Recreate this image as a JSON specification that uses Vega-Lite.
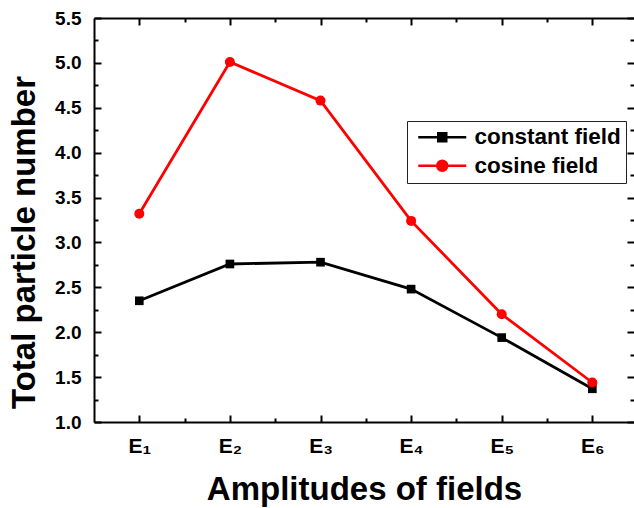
{
  "$schema": "https://vega.github.io/schema/vega-lite/v6.json",
  "width": 540,
  "height": 404,
  "autosize": "none",
  "padding": {"left": 94, "top": 18, "right": 0, "bottom": 86},
  "background": "white",
  "config": {"view": {"stroke": null}, "font": "Liberation Sans"},
  "data": {
    "values": [
      {"amp": 1, "series": "constant field", "value": 2.35},
      {"amp": 2, "series": "constant field", "value": 2.76},
      {"amp": 3, "series": "constant field", "value": 2.78},
      {"amp": 4, "series": "constant field", "value": 2.48},
      {"amp": 5, "series": "constant field", "value": 1.94},
      {"amp": 6, "series": "constant field", "value": 1.37},
      {"amp": 1, "series": "cosine field", "value": 3.32},
      {"amp": 2, "series": "cosine field", "value": 5.01},
      {"amp": 3, "series": "cosine field", "value": 4.58},
      {"amp": 4, "series": "cosine field", "value": 3.24},
      {"amp": 5, "series": "cosine field", "value": 2.2},
      {"amp": 6, "series": "cosine field", "value": 1.44}
    ]
  },
  "layer": [
    {
      "transform": [{"filter": "datum.series === 'constant field'"}],
      "mark": {"type": "line", "strokeWidth": 2.8, "color": "black"},
      "encoding": {
        "x": {
          "field": "amp", "type": "quantitative",
          "scale": {"domain": [0.5, 6.46], "nice": false, "zero": false},
          "axis": {
            "orient": "bottom",
            "values": [1, 1.5, 2, 2.5, 3, 3.5, 4, 4.5, 5, 5.5, 6],
            "labelExpr": "datum.value % 1 === 0 ? 'E' + ['₁','₂','₃','₄','₅','₆'][datum.value - 1] : ''",
            "title": "Amplitudes of fields",
            "titleFontSize": 33, "titleFontWeight": "bold", "titleColor": "black", "titlePadding": 14,
            "labelFontSize": 21, "labelFontWeight": "bold", "labelColor": "black", "labelPadding": 20,
            "labelFlush": false, "labelOverlap": false,
            "tickSize": {"condition": {"test": "datum.value % 1 === 0", "value": -7}, "value": -4},
            "tickColor": "black", "tickWidth": 2,
            "domainColor": "black", "domainWidth": 2, "grid": false
          }
        },
        "y": {
          "field": "value", "type": "quantitative",
          "scale": {"domain": [1, 5.5], "nice": false, "zero": false},
          "axis": {
            "orient": "left",
            "values": [1, 1.25, 1.5, 1.75, 2, 2.25, 2.5, 2.75, 3, 3.25, 3.5, 3.75, 4, 4.25, 4.5, 4.75, 5, 5.25, 5.5],
            "labelExpr": "datum.value % 0.5 === 0 ? format(datum.value, '.1f') : ''",
            "title": "Total particle number",
            "titleFontSize": 33, "titleFontWeight": "bold", "titleColor": "black", "titlePadding": 13,
            "titleY": 224,
            "labelFontSize": 19, "labelFontWeight": "bold", "labelColor": "black", "labelPadding": 20,
            "labelFlush": false, "labelOverlap": false,
            "tickSize": {"condition": {"test": "datum.value % 0.5 === 0", "value": -7}, "value": -4},
            "tickColor": "black", "tickWidth": 2,
            "domainColor": "black", "domainWidth": 2, "grid": false
          }
        }
      }
    },
    {
      "transform": [{"filter": "datum.series === 'cosine field'"}],
      "mark": {"type": "line", "strokeWidth": 2.8, "color": "red"},
      "encoding": {
        "x": {
          "field": "amp", "type": "quantitative",
          "axis": {
            "orient": "top",
            "values": [1, 1.5, 2, 2.5, 3, 3.5, 4, 4.5, 5, 5.5, 6],
            "labels": false, "title": null,
            "tickSize": {"condition": {"test": "datum.value % 1 === 0", "value": -7}, "value": -4},
            "tickColor": "black", "tickWidth": 2,
            "domainColor": "black", "domainWidth": 2, "grid": false
          }
        },
        "y": {
          "field": "value", "type": "quantitative",
          "axis": {
            "orient": "right",
            "values": [1, 1.25, 1.5, 1.75, 2, 2.25, 2.5, 2.75, 3, 3.25, 3.5, 3.75, 4, 4.25, 4.5, 4.75, 5, 5.25, 5.5],
            "labels": false, "title": null, "domain": false,
            "tickSize": {"condition": {"test": "datum.value % 0.5 === 0", "value": -7}, "value": -4},
            "tickColor": "black", "tickWidth": 2, "grid": false
          }
        }
      }
    },
    {
      "transform": [{"filter": "datum.series === 'constant field'"}],
      "mark": {"type": "square", "size": 75, "opacity": 1, "color": "black"},
      "encoding": {
        "x": {"field": "amp", "type": "quantitative", "axis": null},
        "y": {"field": "value", "type": "quantitative", "axis": null}
      }
    },
    {
      "transform": [{"filter": "datum.series === 'cosine field'"}],
      "mark": {"type": "circle", "size": 100, "opacity": 1, "color": "red"},
      "encoding": {
        "x": {"field": "amp", "type": "quantitative", "axis": null},
        "y": {"field": "value", "type": "quantitative", "axis": null}
      }
    },
    {
      "transform": [{"filter": "false"}],
      "mark": {"type": "point", "size": 100, "filled": true},
      "encoding": {
        "x": {"field": "amp", "type": "quantitative", "axis": null},
        "y": {"field": "value", "type": "quantitative", "axis": null},
        "fill": {
          "field": "series", "type": "nominal",
          "scale": {"domain": ["constant field", "cosine field"], "range": ["black", "red"]},
          "legend": {"title": null}
        },
        "stroke": {
          "field": "series", "type": "nominal",
          "scale": {"domain": ["constant field", "cosine field"], "range": ["black", "red"]},
          "legend": {"title": null}
        },
        "shape": {
          "field": "series", "type": "nominal",
          "scale": {
            "domain": ["constant field", "cosine field"],
            "range": [
              "M-4.8,0H4.8M-0.8,-0.8H0.8V0.8H-0.8Z",
              "M-4.8,0H4.8M1,0A1,1,0,1,1,-1,0A1,1,0,1,1,1,0Z"
            ]
          },
          "legend": {
            "title": null, "orient": "none", "legendX": 313, "legendY": 103,
            "strokeColor": "#222", "padding": 5,
            "labelFont": "Liberation Sans", "labelFontWeight": "bold", "labelFontSize": 22.5, "labelColor": "black",
            "symbolStrokeWidth": 2.5, "symbolOpacity": 1, "rowPadding": 5.5,
            "symbolOffset": 19, "labelOffset": 21
          }
        }
      }
    }
  ],
  "resolve": {"axis": {"x": "independent", "y": "independent"}}
}
